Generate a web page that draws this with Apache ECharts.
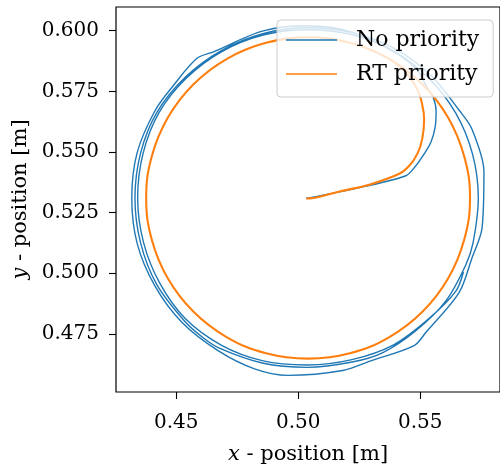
<!DOCTYPE html>
<html>
<head>
<meta charset="utf-8">
<script src="https://cdn.jsdelivr.net/npm/echarts@6/dist/echarts.min.js"></script>
<style>
html,body{margin:0;padding:0;background:#fff;}
#chart{width:500px;height:470px;}
</style>
</head>
<body>
<div id="chart"></div>
<script>
// Tick values and labels
var xTicks = [0.45, 0.50, 0.55];
var yTicks = [0.475, 0.500, 0.525, 0.550, 0.575, 0.600];
var seriesNames = ['No priority', 'RT priority'];

// "No priority" trajectory (x, y in m)
var blueStart = [[0.5033,0.5309],[0.5087,0.5319],[0.5251,0.5353],[0.5441,0.5402],[0.5482,0.5443],[0.5516,0.5492],[0.5544,0.5541],[0.5561,0.5602],[0.5565,0.5668],[0.5553,0.5725],[0.5528,0.5766],[0.5484,0.5842]];
var blueLap1 = [[0.5387,0.5916],[0.5220,0.5994],[0.5037,0.6020],[0.4853,0.5998],[0.4658,0.5915],[0.4584,0.5885],[0.4487,0.5772],[0.4413,0.5670],[0.4340,0.5497],[0.4318,0.5310],[0.4340,0.5123],[0.4412,0.4949],[0.4524,0.4797],[0.4673,0.4680],[0.4821,0.4606],[0.4957,0.4579],[0.5182,0.4599],[0.5300,0.4640],[0.5475,0.4702],[0.5523,0.4756],[0.5659,0.4920],[0.5712,0.5063],[0.5753,0.5185],[0.5761,0.5419],[0.5712,0.5594],[0.5661,0.5670],[0.5543,0.5816],[0.5393,0.5927]];
var blueLap2 = [[0.5221,0.5992],[0.5037,0.6012],[0.4855,0.5988],[0.4685,0.5918],[0.4538,0.5809],[0.4422,0.5665],[0.4354,0.5495],[0.4331,0.5310],[0.4354,0.5125],[0.4420,0.4954],[0.4532,0.4805],[0.4609,0.4735],[0.4679,0.4690],[0.4852,0.4630],[0.5037,0.4612],[0.5221,0.4634],[0.5345,0.4672],[0.5482,0.4763],[0.5605,0.4886],[0.5687,0.5035],[0.5717,0.5128],[0.5738,0.5310],[0.5714,0.5492],[0.5645,0.5661],[0.5533,0.5806],[0.5388,0.5918]];
var blueLap3 = [[0.5219,0.5984],[0.5037,0.6004],[0.4856,0.5982],[0.4687,0.5914],[0.4541,0.5804],[0.4430,0.5663],[0.4364,0.5493],[0.4342,0.5310],[0.4366,0.5127],[0.4432,0.4960],[0.4538,0.4812],[0.4684,0.4704],[0.4852,0.4640],[0.5037,0.4622],[0.5220,0.4644],[0.5391,0.4705],[0.5538,0.4815],[0.5646,0.4926],[0.5677,0.5005]];

// "RT priority" trajectory (x, y in m)
var orangeStart = [[0.5033,0.5308],[0.5063,0.5310],[0.5169,0.5337],[0.5291,0.5365],[0.5414,0.5410],[0.5455,0.5443],[0.5488,0.5492],[0.5508,0.5553],[0.5516,0.5635],[0.5508,0.5696],[0.5488,0.5758],[0.5445,0.5822]];
var orangeLap = [[0.5372,0.5884],[0.5212,0.5950],[0.5040,0.5973],[0.4868,0.5950],[0.4708,0.5884],[0.4571,0.5779],[0.4466,0.5642],[0.4400,0.5482],[0.4377,0.5310],[0.4400,0.5138],[0.4466,0.4978],[0.4571,0.4841],[0.4708,0.4736],[0.4868,0.4670],[0.5040,0.4648],[0.5212,0.4670],[0.5372,0.4736],[0.5509,0.4841],[0.5614,0.4978],[0.5680,0.5138],[0.5704,0.5310],[0.5680,0.5482],[0.5614,0.5642],[0.5509,0.5779],[0.5372,0.5884],[0.5212,0.5950],[0.5040,0.5973],[0.4868,0.5950]];

var blueData = blueStart.concat(blueLap1, blueLap2, blueLap3);
var orangeData = orangeStart.concat(orangeLap);

var FONT = 'DejaVu Serif';
var chart = echarts.init(document.getElementById('chart'), null, {renderer: 'canvas'});
chart.setOption({
  animation: false,
  backgroundColor: '#ffffff',
  grid: {
    left: 116, top: 7, width: 385, height: 388,
    show: true, borderColor: '#000', borderWidth: 1.2, backgroundColor: 'transparent'
  },
  xAxis: {
    type: 'value', min: 0.42533, max: 0.58268,
    name: '{i|x} - position [m]', nameLocation: 'middle', nameGap: 52,
    nameTextStyle: {fontFamily: FONT, fontSize: 21, color: '#000',
      rich: {i: {fontFamily: FONT, fontStyle: 'italic', fontSize: 21, color: '#000'}}},
    axisLine: {show: false},
    splitLine: {show: false},
    axisTick: {show: true, length: 7, inside: false, customValues: xTicks, lineStyle: {color: '#000', width: 1.1}},
    axisLabel: {customValues: xTicks, margin: 21, fontFamily: FONT, fontSize: 20, color: '#000',
      formatter: function (v) { return v.toFixed(2); }}
  },
  yAxis: {
    type: 'value', min: 0.45105, max: 0.60975,
    name: '{i|y} - position [m]', nameLocation: 'middle', nameGap: 82, nameRotate: 90,
    nameTextStyle: {fontFamily: FONT, fontSize: 21, color: '#000',
      rich: {i: {fontFamily: FONT, fontStyle: 'italic', fontSize: 21, color: '#000'}}},
    axisLine: {show: false},
    splitLine: {show: false},
    axisTick: {show: true, length: 7, inside: false, customValues: yTicks, lineStyle: {color: '#000', width: 1.1}},
    axisLabel: {customValues: yTicks, margin: 17, fontFamily: FONT, fontSize: 20, color: '#000',
      formatter: function (v) { return v.toFixed(3); }}
  },
  legend: {
    data: [
      {name: seriesNames[0], icon: 'rect', itemStyle: {color: '#1f77b4'}},
      {name: seriesNames[1], icon: 'rect', itemStyle: {color: '#ff7f0e'}}
    ],
    orient: 'vertical', left: 277, top: 20,
    itemWidth: 51, itemHeight: 1.6, itemGap: 12,
    padding: [9, 14, 12, 9],
    backgroundColor: 'rgba(255,255,255,0.8)',
    borderColor: '#cccccc', borderWidth: 1, borderRadius: 4,
    textStyle: {fontFamily: FONT, fontSize: 22, color: '#000', lineHeight: 22, padding: [0, 0, 0, 14]}
  },
  series: [
    {
      name: seriesNames[0], type: 'line', data: blueData,
      showSymbol: false, symbol: 'none', smooth: 0.3, clip: true,
      lineStyle: {color: '#1f77b4', width: 1.4},
      itemStyle: {color: '#1f77b4'}
    },
    {
      name: seriesNames[1], type: 'line', data: orangeData,
      showSymbol: false, symbol: 'none', smooth: 0.4, clip: true,
      lineStyle: {color: '#ff7f0e', width: 2.1},
      itemStyle: {color: '#ff7f0e'}
    }
  ]
});
</script>
</body>
</html>
